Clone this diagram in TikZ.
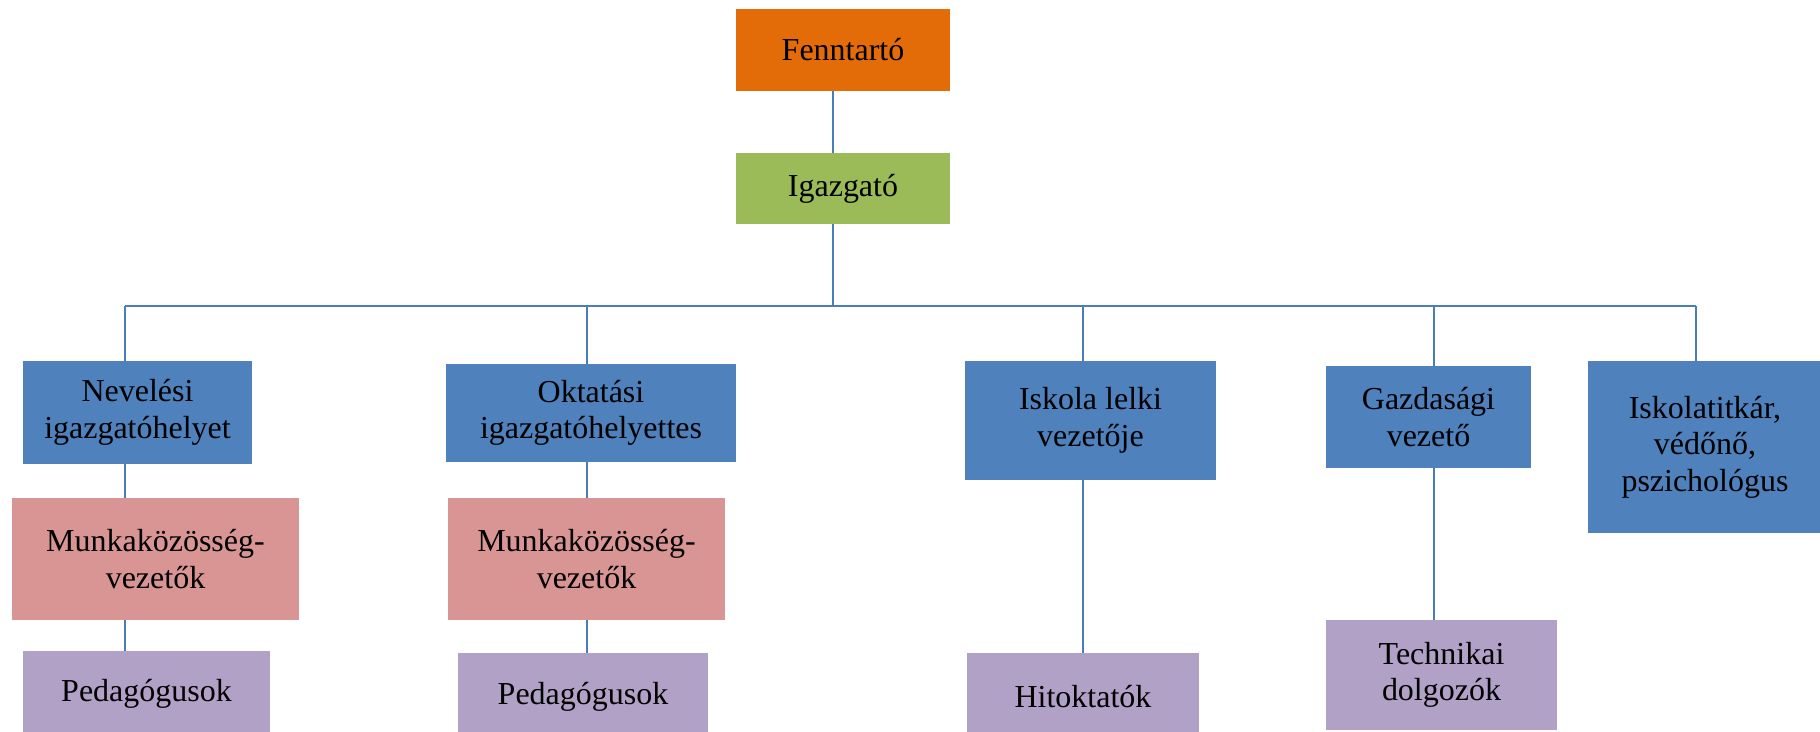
\documentclass[tikz,border=0pt]{standalone}
\usepackage{fontspec}
\setmainfont{Liberation Serif}
\usetikzlibrary{positioning}
\definecolor{fenntarto}{RGB}{227,108,9}
\definecolor{igazgato}{RGB}{155,187,89}
\definecolor{vezeto}{RGB}{79,129,189}
\definecolor{munka}{RGB}{217,149,148}
\definecolor{beosztott}{RGB}{178,161,199}
\definecolor{vonal}{RGB}{74,126,187}
\tikzset{
  box/.style={rectangle, inner sep=0pt, align=center, text=black,
    font=\fontsize{18.2}{20.8}\selectfont},
  link/.style={draw=vonal, line width=1.3pt}
}

\begin{document}
\begin{tikzpicture}

    \path[use as bounding box, clip] (0,0) rectangle (36.4,14.64);

    % VEZETÉS
    \node[box, fill=fenntarto, minimum width=4.28cm, minimum height=1.64cm] (fenn) at (16.86,13.64) {Fenntartó};
    \node[box, fill=igazgato, minimum width=4.28cm, minimum height=1.42cm] (igaz) at (16.86,10.87) {Igazgató};

    % HELYETTESEK ÉS VEZETŐK
    \node[box, fill=vezeto, minimum width=4.58cm, minimum height=2.06cm] (nev) at (2.75,6.39) {Nevelési\\igazgatóhelyet};
    \node[box, fill=vezeto, minimum width=5.80cm, minimum height=1.96cm] (okt) at (11.82,6.38) {Oktatási\\igazgatóhelyettes};
    \node[box, fill=vezeto, minimum width=5.02cm, minimum height=2.38cm] (isk) at (21.81,6.23) {Iskola lelki\\vezetője};
    \node[box, fill=vezeto, minimum width=4.10cm, minimum height=2.04cm] (gazd) at (28.57,6.30) {Gazdasági\\vezető};
    \node[box, fill=vezeto, minimum width=4.68cm, minimum height=3.44cm] (titk) at (34.10,5.70) {Iskolatitkár,\\védőnő,\\pszichológus};

    % MUNKAKÖZÖSSÉGEK
    \node[box, fill=munka, minimum width=5.74cm, minimum height=2.44cm] (mk1) at (3.11,3.46) {Munkaközösség-\\vezetők};
    \node[box, fill=munka, minimum width=5.54cm, minimum height=2.44cm] (mk2) at (11.73,3.46) {Munkaközösség-\\vezetők};

    % BEOSZTOTTAK
    \node[box, fill=beosztott, minimum width=4.94cm, minimum height=1.72cm] (ped1) at (2.93,0.76) {Pedagógusok};
    \node[box, fill=beosztott, minimum width=5.00cm, minimum height=1.76cm] (ped2) at (11.66,0.70) {Pedagógusok};
    \node[box, fill=beosztott, minimum width=4.64cm, minimum height=1.76cm] (hit) at (21.66,0.70) {Hitoktatók};
    \node[box, fill=beosztott, minimum width=4.62cm, minimum height=2.20cm] (tech) at (28.83,1.14) {Technikai\\dolgozók};

    % ELÁGAZÁS
    \coordinate (top) at (16.66,8.52);
    \coordinate (d1) at (2.50,8.52);
    \coordinate (d2) at (11.74,8.52);
    \coordinate (d3) at (21.66,8.52);
    \coordinate (d4) at (28.68,8.52);
    \coordinate (d5) at (33.92,8.52);

    % VONALAK
    \draw[link] (fenn.south -| top) -- (igaz.north -| top);
    \draw[link] (igaz.south -| top) -- (top);
    \draw[link] (d1) -- (d5);
    \draw[link] (d1) -- (nev.north -| d1);
    \draw[link] (d2) -- (okt.north -| d2);
    \draw[link] (d3) -- (isk.north -| d3);
    \draw[link] (d4) -- (gazd.north -| d4);
    \draw[link] (d5) -- (titk.north -| d5);
    \draw[link] (nev.south -| d1) -- (mk1.north -| d1);
    \draw[link] (mk1.south -| d1) -- (ped1.north -| d1);
    \draw[link] (okt.south -| d2) -- (mk2.north -| d2);
    \draw[link] (mk2.south -| d2) -- (ped2.north -| d2);
    \draw[link] (isk.south -| d3) -- (hit.north -| d3);
    \draw[link] (gazd.south -| d4) -- (tech.north -| d4);

\end{tikzpicture}
\end{document}
